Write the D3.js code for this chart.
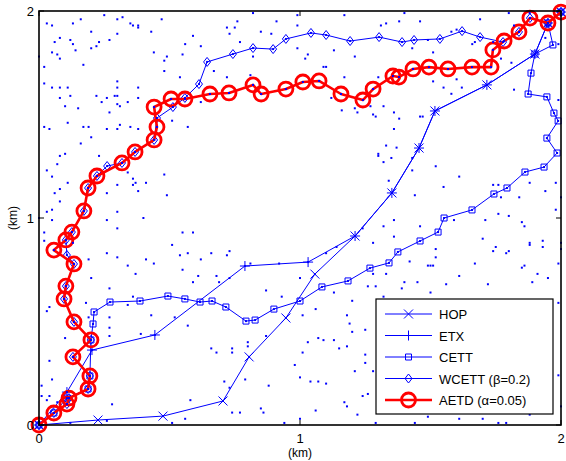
<!DOCTYPE html>
<html>
<head>
<meta charset="utf-8">
<script src="https://cdn.jsdelivr.net/npm/d3@7"></script>
<style>
  html, body { margin: 0; padding: 0; background: #fff; }
  svg { display: block; font-family: "Liberation Sans", Arial, Helvetica, sans-serif; }
</style>
</head>
<body>
<div id="chart"></div>
<script>
// route vertices, [x km, y km]
const hop = [
  [0, 0], [0.226, 0.024], [0.475, 0.043], [0.705, 0.116], [0.805, 0.329], [0.946, 0.517],
  [1.057, 0.729], [1.211, 0.913], [1.352, 1.121], [1.456, 1.338], [1.517, 1.517],
  [1.716, 1.643], [1.900, 1.792], [1.950, 1.942], [2.0, 1.995]
];
const etx = [
  [0, 0], [0.107, 0.159], [0.203, 0.362], [0.444, 0.435], [0.789, 0.768], [1.031, 0.787],
  [1.211, 0.913], [1.352, 1.121], [1.456, 1.338], [1.517, 1.517], [1.716, 1.643],
  [1.900, 1.792], [1.950, 1.942], [2.0, 1.995]
];
const cett = [
  [0, 0], [0.057, 0.058], [0.107, 0.130], [0.188, 0.174], [0.195, 0.237], [0.199, 0.411],
  [0.207, 0.488], [0.211, 0.546], [0.272, 0.594], [0.387, 0.599], [0.494, 0.623],
  [0.559, 0.609], [0.617, 0.594], [0.663, 0.599], [0.716, 0.570], [0.793, 0.502],
  [0.828, 0.507], [0.900, 0.560], [1.0, 0.599], [1.084, 0.667], [1.184, 0.696],
  [1.268, 0.758], [1.341, 0.783], [1.375, 0.836], [1.460, 0.889], [1.529, 0.932],
  [1.552, 1.0], [1.659, 1.039], [1.743, 1.116], [1.793, 1.145], [1.862, 1.222],
  [1.935, 1.246], [1.985, 1.314], [1.946, 1.386], [1.989, 1.469], [1.973, 1.507],
  [1.946, 1.585], [1.874, 1.599], [1.885, 1.700], [1.900, 1.792], [1.969, 1.836],
  [1.950, 1.942], [2.0, 1.995]
];
const wcett = [
  [0, 0], [0.057, 0.058], [0.107, 0.101], [0.115, 0.130], [0.188, 0.174], [0.195, 0.237],
  [0.130, 0.329], [0.199, 0.411], [0.134, 0.498], [0.096, 0.609], [0.103, 0.671],
  [0.134, 0.778], [0.107, 0.821], [0.103, 0.894], [0.126, 0.932], [0.172, 1.034],
  [0.188, 1.145], [0.222, 1.203], [0.261, 1.251], [0.318, 1.266], [0.368, 1.319],
  [0.441, 1.377], [0.452, 1.483], [0.513, 1.536], [0.559, 1.580], [0.613, 1.647],
  [0.644, 1.754], [0.743, 1.792], [0.820, 1.821], [0.897, 1.816], [0.946, 1.865],
  [1.042, 1.894], [1.100, 1.884], [1.192, 1.855], [1.303, 1.874], [1.391, 1.850],
  [1.437, 1.860], [1.536, 1.865], [1.621, 1.903], [1.690, 1.874], [1.778, 1.850],
  [1.839, 1.899], [1.881, 1.966], [1.950, 1.942], [2.0, 1.995]
];
const aetd = [
  [0, 0], [0.057, 0.058], [0.107, 0.101], [0.115, 0.130], [0.188, 0.174], [0.195, 0.237],
  [0.130, 0.329], [0.199, 0.411], [0.134, 0.498], [0.096, 0.609], [0.103, 0.671],
  [0.134, 0.778], [0.057, 0.845], [0.103, 0.894], [0.126, 0.932], [0.172, 1.034],
  [0.188, 1.145], [0.222, 1.203], [0.318, 1.266], [0.368, 1.319], [0.441, 1.377],
  [0.452, 1.440], [0.441, 1.536], [0.506, 1.575], [0.559, 1.575], [0.655, 1.599],
  [0.728, 1.604], [0.820, 1.643], [0.851, 1.599], [0.946, 1.623], [1.011, 1.657],
  [1.073, 1.662], [1.157, 1.599], [1.241, 1.570], [1.280, 1.623], [1.356, 1.686],
  [1.379, 1.681], [1.433, 1.720], [1.494, 1.729], [1.567, 1.720], [1.659, 1.729],
  [1.732, 1.729], [1.739, 1.812], [1.782, 1.855], [1.839, 1.899], [1.881, 1.966],
  [1.950, 1.942], [2.0, 1.995]
];

// other mesh nodes
const nodes = [
  [0.16,1.96],[0.25,1.98],[0.30,1.96],[0.32,1.97],[0.03,1.94],[0.05,1.93],[0.13,1.94],[0.08,1.87],
  [0.06,1.85],[0.12,1.86],[0.13,1.84],[0.14,1.81],[0.20,1.90],[0.23,1.85],[0.22,1.83],[0.20,1.82],
  [0.27,1.86],[0.30,1.89],[0.35,1.94],[0.36,1.93],[0.38,1.93],[0.38,1.92],[0.43,1.90],[0.47,1.96],
  [0.44,1.80],[0.49,1.78],[0.48,1.76],[0.48,1.71],[0.55,1.79],[0.56,1.84],[0.59,1.88],[0.62,1.83],
  [0.67,1.71],[0.54,1.68],[0.72,1.92],[0.73,1.89],[0.75,1.92],[0.76,1.95],[0.82,1.99],[0.85,1.90],
  [0.77,1.85],[0.91,1.95],[0.89,1.89],[0.82,1.78],[0.72,1.68],[0.81,1.69],[0.00,1.78],[0.02,1.73],
  [0.05,1.80],[0.07,1.79],[0.08,1.77],[0.17,1.74],[0.02,1.65],[0.05,1.63],[0.08,1.63],[0.11,1.63],
  [0.12,1.59],[0.08,1.58],[0.10,1.54],[0.15,1.53],[0.22,1.59],[0.26,1.58],[0.24,1.56],[0.29,1.59],
  [0.30,1.59],[0.30,1.66],[0.30,1.63],[0.30,1.55],[0.31,1.54],[0.27,1.51],[0.34,1.56],[0.38,1.63],
  [0.38,1.58],[0.11,1.46],[0.02,1.44],[0.04,1.43],[0.17,1.44],[0.19,1.44],[0.26,1.43],[0.30,1.43],
  [0.31,1.45],[0.35,1.44],[0.38,1.43],[0.20,1.39],[0.16,1.36],[0.23,1.30],[0.08,1.30],[0.10,1.31],
  [0.07,1.26],[0.03,1.23],[0.05,1.20],[0.11,1.17],[0.08,1.14],[0.06,1.12],[0.08,1.08],[0.03,1.03],
  [0.05,1.04],[0.05,0.99],[0.00,1.00],[0.26,1.12],[0.30,1.16],[0.36,1.19],[0.36,1.16],[0.37,1.17],
  [0.38,1.13],[0.41,1.17],[0.48,1.21],[0.49,1.11],[0.34,1.22],[0.30,1.03],[0.26,0.99],[0.40,1.00],
  [0.30,0.95],[0.51,1.47],[0.57,1.44],[0.62,1.56],
  [0.99,1.98],[1.17,1.98],[1.40,1.99],[0.99,1.93],[1.31,1.93],[1.33,1.94],[1.38,1.95],[1.46,1.95],
  [1.69,1.96],[1.80,1.99],[1.82,1.93],[1.88,1.99],[1.58,1.90],[1.60,1.91],[1.09,1.73],[1.10,1.73],
  [1.03,1.79],[1.02,1.77],[1.13,1.81],[1.21,1.78],[0.99,1.82],[1.43,1.82],[1.49,1.86],[1.51,1.80],
  [1.66,1.84],[1.67,1.85],[1.74,1.85],[1.77,1.77],[1.81,1.75],[1.94,1.87],[1.99,1.84],[1.17,1.68],
  [1.30,1.68],[1.51,1.66],[1.55,1.63],[1.60,1.67],[1.62,1.63],[1.82,1.62],[1.12,1.58],[1.16,1.52],
  [1.21,1.53],[1.22,1.51],[1.27,1.54],[1.28,1.50],[1.29,1.49],[1.32,1.54],[1.36,1.51],[1.38,1.48],
  [1.46,1.49],[1.47,1.49],[1.58,1.60],[1.36,1.43],[1.33,1.35],[1.37,1.34],[1.30,1.31],[1.30,1.30],
  [1.35,1.29],[1.32,1.27],[1.43,1.29],[1.43,1.23],[1.52,1.25],[1.34,1.18],[1.44,1.11],[1.55,1.15],
  [1.61,1.20],[1.74,1.16],[1.76,1.16],[1.88,1.17],[1.98,1.17],[1.94,1.13],[2.00,1.10],[1.77,1.10],
  [1.84,1.10],[1.98,1.04],[1.71,0.99],[1.76,1.02],[1.80,1.01],[1.85,0.98],[1.86,0.96],[1.36,0.99],
  [1.46,0.96],[1.59,0.99],[1.32,0.96],[1.99,1.57],
  [0.02,0.93],[0.02,0.89],[0.13,0.88],[0.26,0.83],[0.30,0.81],[0.34,0.77],[0.37,0.73],[0.41,0.80],
  [0.44,0.78],[0.51,0.87],[0.54,0.82],[0.55,0.75],[0.57,0.83],[0.59,0.69],[0.62,0.80],[0.66,0.83],
  [0.72,0.82],[0.73,0.84],[0.68,0.72],[0.69,0.69],[0.61,0.72],[0.20,0.71],[0.18,0.59],[0.27,0.66],
  [0.27,0.52],[0.27,0.47],[0.34,0.58],[0.36,0.62],[0.43,0.53],[0.52,0.52],[0.57,0.48],[0.39,0.44],
  [0.04,0.57],[0.03,0.55],[0.10,0.42],[0.04,0.31],[0.05,0.22],[0.01,0.19],[0.01,0.14],[0.04,0.14],
  [0.07,0.11],[0.28,0.10],[0.12,0.01],[0.26,0.02],[0.51,0.01],[0.56,0.03],[0.58,0.12],[0.66,0.37],
  [0.68,0.35],[0.74,0.37],[0.74,0.35],[0.71,0.21],[0.73,0.18],[0.79,0.22],[0.77,0.06],[0.74,0.06],
  [0.85,0.08],[0.86,0.06],[0.80,0.40],[0.80,0.38],[0.87,0.43],[0.87,0.65],[0.88,0.19],[0.93,0.62],
  [0.94,0.01],[0.19,0.80],[0.19,0.52],[0.27,0.43],[0.03,0.12],[0.55,0.93],[0.59,0.93],[0.73,0.71],
  [0.81,0.78],
  [1.36,0.91],[1.28,0.88],[1.14,0.86],[1.10,0.83],[1.70,0.90],[1.75,0.86],[1.79,0.83],[1.80,0.84],
  [1.74,0.84],[1.88,0.88],[1.88,0.87],[1.93,0.89],[1.93,0.86],[2.00,0.88],[2.00,0.85],[1.52,0.85],
  [1.52,0.81],[1.50,0.77],[1.51,0.77],[1.49,0.77],[1.42,0.79],[1.33,0.73],[1.28,0.73],[1.61,0.72],
  [1.67,0.78],[1.86,0.77],[1.85,0.76],[1.91,0.73],[1.99,0.78],[1.89,0.69],[1.95,0.71],[1.72,0.68],
  [1.40,0.69],[1.45,0.69],[1.39,0.66],[1.26,0.67],[1.32,0.62],[1.13,0.64],[1.56,0.68],[1.50,0.64],
  [1.00,0.71],[0.92,0.78],[1.01,0.53],[1.06,0.56],[1.20,0.60],[1.18,0.53],[1.19,0.49],[1.20,0.45],
  [1.25,0.46],[1.07,0.42],[1.09,0.41],[1.03,0.40],[1.13,0.41],[1.15,0.37],[1.18,0.38],[1.01,0.35],
  [1.25,0.34],[1.25,0.30],[0.98,0.29],[1.21,0.26],[1.00,0.23],[1.04,0.21],[1.07,0.21],[1.10,0.20],
  [1.28,0.26],[1.24,0.14],[1.26,0.15],[1.17,0.11],[1.18,0.09],[1.06,0.07],[1.22,0.05],[1.29,0.01],
  [1.44,0.01],[1.49,0.04],[1.61,0.03],[1.70,0.03],[1.76,0.01],[1.79,0.01],[1.88,0.05],[1.99,0.59],
  [1.99,0.24],[2.00,0.09],[1.00,0.03],[1.24,0.95],[1.29,0.67]
];

const seriesNames = ['HOP', 'ETX', 'CETT', 'WCETT (\u03b2=0.2)', 'AETD (\u03b1=0.05)'];
const xTicks = [0, 1, 2];
const yTicks = [0, 1, 2];

const width = 566, height = 461;
const blue = '#0000ff', red = '#ff0000';

const svg = d3.select('#chart').append('svg')
  .attr('width', width)
  .attr('height', height);

const x = d3.scaleLinear().domain([0, 2]).range([39, 561]);
const y = d3.scaleLinear().domain([0, 2]).range([425, 11]);

svg.append('rect')
  .attr('x', x(0)).attr('y', y(2))
  .attr('width', x(2) - x(0)).attr('height', y(0) - y(2))
  .attr('fill', '#fff');

const line = d3.line().x(d => x(d[0])).y(d => y(d[1]));

// marker shapes
const markers = {
  x: 'M-4.5,-4.5L4.5,4.5M-4.5,4.5L4.5,-4.5',
  plus: 'M-5,0H5M0,-5V5',
  square: 'M-3,-3H3V3H-3Z',
  diamond: 'M0,-4.5L3.5,0L0,4.5L-3.5,0Z'
};

function drawSeries(data, marker, color, lw) {
  const g = svg.append('g');
  g.append('path')
    .datum(data)
    .attr('d', line)
    .attr('fill', 'none')
    .attr('stroke', color)
    .attr('stroke-width', lw)
    .attr('stroke-linejoin', 'round');
  g.selectAll('path.mk')
    .data(data)
    .enter()
    .append('path')
    .attr('class', 'mk')
    .attr('transform', d => `translate(${x(d[0])},${y(d[1])})`)
    .attr('d', markers[marker])
    .attr('fill', 'none')
    .attr('stroke', color)
    .attr('stroke-width', 1);
}

drawSeries(hop, 'x', blue, 1);
drawSeries(etx, 'plus', blue, 1);
drawSeries(cett, 'square', blue, 1);
drawSeries(wcett, 'diamond', blue, 1);

// AETD: thick red with circles
const ga = svg.append('g');
ga.append('path')
  .datum(aetd)
  .attr('d', line)
  .attr('fill', 'none')
  .attr('stroke', red)
  .attr('stroke-width', 2.6)
  .attr('stroke-linejoin', 'round');
ga.selectAll('circle')
  .data(aetd)
  .enter()
  .append('circle')
  .attr('cx', d => x(d[0]))
  .attr('cy', d => y(d[1]))
  .attr('r', 7)
  .attr('fill', 'none')
  .attr('stroke', red)
  .attr('stroke-width', 2.8);

// nodes are plotted last (route vertices are nodes too)
const allNodes = nodes.concat(hop, etx, cett, wcett, aetd);
svg.append('g').selectAll('rect')
  .data(allNodes)
  .enter()
  .append('rect')
  .attr('x', d => x(d[0]) - 1)
  .attr('y', d => y(d[1]) - 1)
  .attr('width', 2)
  .attr('height', 2)
  .attr('fill', blue);

// frame + ticks
svg.append('rect')
  .attr('x', x(0)).attr('y', y(2))
  .attr('width', x(2) - x(0)).attr('height', y(0) - y(2))
  .attr('fill', 'none')
  .attr('stroke', '#000')
  .attr('stroke-width', 1.6);

const tickLen = 5;
const ticks = svg.append('g').attr('stroke', '#000').attr('stroke-width', 1);
xTicks.forEach(t => {
  ticks.append('line').attr('x1', x(t)).attr('x2', x(t)).attr('y1', y(0)).attr('y2', y(0) - tickLen);
  ticks.append('line').attr('x1', x(t)).attr('x2', x(t)).attr('y1', y(2)).attr('y2', y(2) + tickLen);
});
yTicks.forEach(t => {
  ticks.append('line').attr('x1', x(0)).attr('x2', x(0) + tickLen).attr('y1', y(t)).attr('y2', y(t));
  ticks.append('line').attr('x1', x(2)).attr('x2', x(2) - tickLen).attr('y1', y(t)).attr('y2', y(t));
});

svg.append('g').selectAll('text')
  .data(xTicks)
  .enter()
  .append('text')
  .attr('x', d => x(d))
  .attr('y', y(0) + 18)
  .attr('text-anchor', 'middle')
  .attr('font-size', 13)
  .text(d => d);

svg.append('g').selectAll('text')
  .data(yTicks)
  .enter()
  .append('text')
  .attr('x', x(0) - 5)
  .attr('y', d => y(d) + 5)
  .attr('text-anchor', 'end')
  .attr('font-size', 13)
  .text(d => d);

svg.append('text')
  .attr('x', x(1))
  .attr('y', 457)
  .attr('text-anchor', 'middle')
  .attr('font-size', 12)
  .text('(km)');

svg.append('text')
  .attr('transform', `translate(17,${y(1)}) rotate(-90)`)
  .attr('text-anchor', 'middle')
  .attr('font-size', 12)
  .text('(km)');

// legend
const lg = svg.append('g').attr('transform', 'translate(376,299)');
lg.append('rect')
  .attr('width', 177).attr('height', 115)
  .attr('fill', '#fff')
  .attr('stroke', '#000')
  .attr('stroke-width', 1.2);

const legendMarks = ['x', 'plus', 'square', 'diamond', 'circle'];
seriesNames.forEach((name, i) => {
  const cy = 15 + i * 21.5;
  const isRed = i === 4;
  const c = isRed ? red : blue;
  lg.append('line')
    .attr('x1', 9).attr('x2', 56)
    .attr('y1', cy).attr('y2', cy)
    .attr('stroke', c)
    .attr('stroke-width', isRed ? 2.6 : 1);
  if (isRed) {
    lg.append('circle')
      .attr('cx', 32.5).attr('cy', cy).attr('r', 7)
      .attr('fill', 'none').attr('stroke', red).attr('stroke-width', 2.8);
  } else {
    lg.append('path')
      .attr('transform', `translate(32.5,${cy})`)
      .attr('d', markers[legendMarks[i]])
      .attr('fill', 'none').attr('stroke', c).attr('stroke-width', 1);
  }
  lg.append('text')
    .attr('x', 63)
    .attr('y', cy + 5)
    .attr('font-size', 13)
    .text(name);
});
</script>
</body>
</html>
